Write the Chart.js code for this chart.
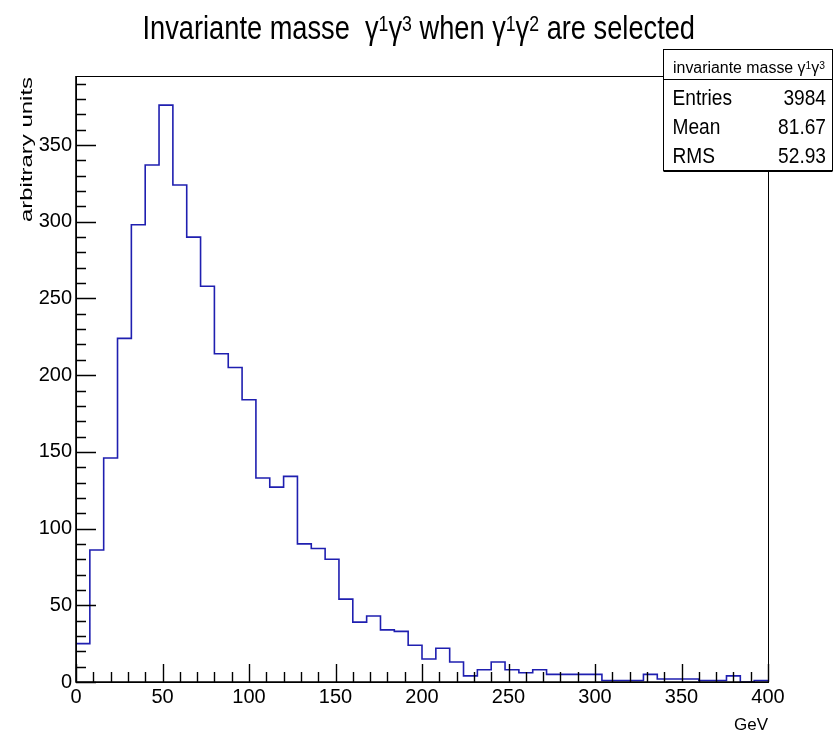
<!DOCTYPE html>
<html><head><meta charset="utf-8">
<script src="https://cdn.jsdelivr.net/npm/chart.js@4"></script>
<style>html,body{margin:0;padding:0;background:#fff}#wrap{width:833px;height:734px}</style>
</head><body><div id="wrap"><canvas id="c" width="833" height="734"></canvas></div>
<script>
// ---- data ----
const binLowEdges = [0,8,16,24,32,40,48,56,64,72,80,88,96,104,112,120,128,136,144,152,160,168,176,184,192,200,208,216,224,232,240,248,256,264,272,280,288,296,304,312,320,328,336,344,352,360,368,376,384,392];
const binUpperEdge = 400;
const counts = [25,86,146,224,298,337,376,324,290,258,214,205,184,133,127,134,90,87,80,54,39,43,34,33,24,15,22,13,4,8,13,8,6,8,5,5,5,5,1,1,1,5,2,2,2,1,1,4,0,1];
const xTicks = [0,50,100,150,200,250,300,350,400];
const yTicks = [0,50,100,150,200,250,300,350];
const titleParts = [{t:'Invariante masse  \u03b3'},{t:'1',sup:true},{t:'\u03b3'},{t:'3',sup:true},{t:' when \u03b3'},{t:'1',sup:true},{t:'\u03b3'},{t:'2',sup:true},{t:' are selected'}];
const statsTitleParts = [{t:'invariante masse \u03b3'},{t:'1',sup:true},{t:'\u03b3'},{t:'3',sup:true}];
const statsLabels = ['Entries','Mean','RMS'];
const statsValues = ['3984','81.67','52.93'];
const xAxisTitle = 'GeV';
const yAxisTitle = 'arbitrary units';

const FAM = '"Liberation Sans", Arial, Helvetica, sans-serif';
const points = binLowEdges.map((x,i)=>({x:x,y:counts[i]}));
points.push({x:binUpperEdge,y:counts[counts.length-1]});

function richWidth(ctx, parts, size){
  let w=0;
  for(const p of parts){ctx.font=(p.sup?size*0.65:size)+'px '+FAM; w+=ctx.measureText(p.t).width;}
  return w;
}
function drawRich(ctx, parts, x, y, size, align, sx){
  const w = richWidth(ctx, parts, size)*sx;
  let x0 = align==='center'? x-w/2 : align==='right'? x-w : x;
  ctx.save();
  ctx.translate(x0,y); ctx.scale(sx,1);
  ctx.textAlign='left'; ctx.textBaseline='alphabetic'; ctx.fillStyle='#000';
  let cx=0;
  for(const p of parts){
    const s = p.sup? size*0.65 : size;
    ctx.font = s+'px '+FAM;
    ctx.fillText(p.t, cx, p.sup? -size*0.23 : 0);
    cx += ctx.measureText(p.t).width;
  }
  ctx.restore();
}
function fitRich(ctx, parts, left, right, y, size){
  const w = richWidth(ctx, parts, size);
  drawRich(ctx, parts, left, y, size, 'left', (right-left)/w);
}

const rootPlugin = {
  id:'rootStyle',
  beforeDraw(chart){
    const ctx=chart.ctx; ctx.save(); ctx.fillStyle='#fff'; ctx.fillRect(0,0,chart.width,chart.height); ctx.restore();
  },
  afterDraw(chart){
    const ctx=chart.ctx, a=chart.chartArea, xs=chart.scales.x, ys=chart.scales.y;
    ctx.save();
    ctx.strokeStyle='#000'; ctx.lineWidth=1;
    // frame
    ctx.strokeRect(Math.round(a.left)+0.5, Math.round(a.top)+0.5, Math.round(a.right-a.left), Math.round(a.bottom-a.top));
    ctx.lineWidth=1.6;
    ctx.beginPath();
    ctx.moveTo(a.left, a.top); ctx.lineTo(a.left, a.bottom); ctx.lineTo(a.right, a.bottom);
    ctx.stroke();
    // ticks
    ctx.lineWidth=1.4;
    ctx.beginPath();
    for(let v=0; v<=ys.max; v+=10){
      const py=Math.round(ys.getPixelForValue(v))+0.5;
      const len = (v%50===0)?20:10;
      ctx.moveTo(a.left,py); ctx.lineTo(a.left+len,py);
    }
    for(let v=0; v<=xs.max; v+=10){
      const px=Math.round(xs.getPixelForValue(v))+0.5;
      const len = (v%50===0)?18:10;
      ctx.moveTo(px,a.bottom); ctx.lineTo(px,a.bottom-len);
    }
    ctx.stroke();
    // title
    fitRich(ctx, titleParts, 142.5, 695, 39, 34);
    // x axis title
    ctx.fillStyle='#000'; ctx.font='17px '+FAM; ctx.textAlign='right'; ctx.textBaseline='alphabetic';
    ctx.fillText(xAxisTitle, a.right, 730);
    // y axis title (rotated)
    ctx.save();
    ctx.translate(32, 77); ctx.rotate(-Math.PI/2);
    ctx.font='17px '+FAM;
    const yw = ctx.measureText(yAxisTitle).width;
    ctx.scale(145/yw,1);
    ctx.textAlign='right'; ctx.fillText(yAxisTitle,0,0);
    ctx.restore();
    // stats box
    const bl=663.5, bt=49.5, br=832.5, bb=170.5, hd=79.5;
    ctx.fillStyle='#fff'; ctx.fillRect(bl,bt,br-bl,bb-bt);
    ctx.strokeStyle='#000'; ctx.lineWidth=1;
    ctx.strokeRect(bl,bt,br-bl,bb-bt);
    ctx.beginPath(); ctx.moveTo(bl,bb+1); ctx.lineTo(br,bb+1); ctx.stroke();
    ctx.beginPath(); ctx.moveTo(bl,hd); ctx.lineTo(br,hd); ctx.stroke();
    fitRich(ctx, statsTitleParts, 673, 825, 73, 16);
    const rowBase=[105,134,163];
    statsLabels.forEach((lab,i)=>{
      drawRich(ctx,[{t:lab}],672.5,rowBase[i],22,'left',0.87);
      drawRich(ctx,[{t:statsValues[i]}],826,rowBase[i],22,'right',0.87);
    });
    ctx.restore();
  }
};

new Chart(document.getElementById('c'),{
  type:'line',
  data:{datasets:[{data:points, stepped:'before', borderColor:'#1f1fb0', borderWidth:1.6, pointRadius:0, fill:false, tension:0}]},
  options:{
    responsive:false, animation:false, devicePixelRatio:1,
    layout:{padding:{top:76,right:65,left:0,bottom:0}},
    plugins:{legend:{display:false},title:{display:false},tooltip:{enabled:false}},
    scales:{
      x:{type:'linear',min:0,max:400,
        grid:{display:false,drawTicks:false},border:{display:false},
        afterFit:s=>{s.height=52;},
        afterBuildTicks:s=>{s.ticks=xTicks.map(v=>({value:v}));},
        ticks:{padding:3,color:'#000',font:{family:FAM,size:20},maxRotation:0,autoSkip:false}},
      y:{type:'linear',min:0,max:395,
        grid:{display:false,drawTicks:false},border:{display:false},
        afterFit:s=>{s.width=76;},
        afterBuildTicks:s=>{s.ticks=yTicks.map(v=>({value:v}));},
        ticks:{padding:4,color:'#000',font:{family:FAM,size:20},autoSkip:false}}
    }
  },
  plugins:[rootPlugin]
});
</script></body></html>
